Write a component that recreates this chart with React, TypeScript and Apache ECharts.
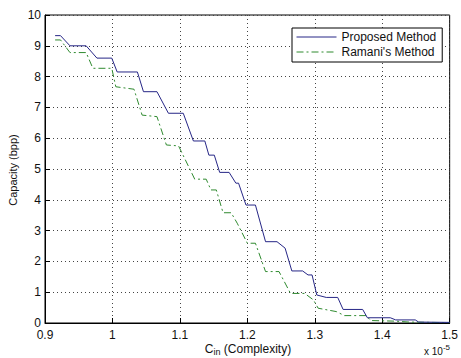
import React, { useEffect, useRef } from "react";
import * as echarts from "echarts";

// x values are in units of 1e-5
const xTicks = [0.9, 1.0, 1.1, 1.2, 1.3, 1.4, 1.5];
const yTicks = [0, 1, 2, 3, 4, 5, 6, 7, 8, 9, 10];

const proposedX = [0.915, 0.923, 0.937, 0.961, 0.977, 0.999, 1.007, 1.037, 1.046, 1.066, 1.083, 1.105, 1.12, 1.137, 1.143, 1.151, 1.159, 1.173, 1.183, 1.187, 1.198, 1.212, 1.227, 1.244, 1.256, 1.266, 1.282, 1.29, 1.296, 1.303, 1.317, 1.334, 1.342, 1.371, 1.378, 1.412, 1.42, 1.449, 1.454, 1.5];
const proposedY = [9.33, 9.33, 9.0, 9.0, 8.6, 8.6, 8.15, 8.15, 7.51, 7.51, 6.81, 6.81, 5.91, 5.91, 5.45, 5.45, 4.89, 4.89, 4.54, 4.54, 3.83, 3.83, 2.64, 2.64, 2.43, 1.69, 1.69, 1.56, 1.56, 0.91, 0.83, 0.83, 0.44, 0.44, 0.17, 0.17, 0.1, 0.1, 0.03, 0.02];

const ramaniX = [0.915, 0.923, 0.937, 0.961, 0.971, 0.999, 1.005, 1.032, 1.044, 1.066, 1.08, 1.098, 1.122, 1.139, 1.146, 1.154, 1.164, 1.176, 1.185, 1.2, 1.212, 1.227, 1.247, 1.264, 1.285, 1.298, 1.305, 1.332, 1.344, 1.376, 1.383, 1.42, 1.44, 1.5];
const ramaniY = [9.19, 9.19, 8.78, 8.78, 8.27, 8.27, 7.67, 7.59, 6.75, 6.7, 5.78, 5.75, 4.67, 4.67, 4.32, 4.32, 3.58, 3.58, 3.24, 2.59, 2.59, 1.67, 1.67, 0.96, 0.96, 0.75, 0.48, 0.37, 0.24, 0.24, 0.08, 0.06, 0.03, 0.01];

const seriesNames = ["Proposed Method", "Ramani's Method"];
const FONT = "Liberation Sans, Arial, sans-serif";

export default function App() {
  const ref = useRef<HTMLDivElement>(null);
  useEffect(() => {
    if (!ref.current) return;
    const chart = echarts.init(ref.current, null, { renderer: "svg" });
    const zip = (xs: number[], ys: number[]) => xs.map((x, i) => [x, ys[i]]);
    chart.setOption({
      animation: false,
      backgroundColor: "#fff",
      textStyle: { fontFamily: FONT },
      grid: {
        left: 45,
        right: 6,
        top: 15,
        bottom: 35,
        show: true,
        borderColor: "#000",
        borderWidth: 1,
        backgroundColor: "transparent",
      },
      legend: {
        orient: "vertical",
        left: 292,
        top: 28,
        itemWidth: 40,
        itemHeight: 14,
        itemGap: 3,
        padding: [3, 6, 4, 4],
        borderColor: "#000",
        borderWidth: 1,
        backgroundColor: "#fff",
        borderRadius: 0,
        itemStyle: { opacity: 0 },
        lineStyle: { width: 1 },
        textStyle: { fontFamily: FONT, fontSize: 12, color: "#111" },
        data: seriesNames,
      },
      xAxis: {
        type: "value",
        min: xTicks[0],
        max: xTicks[xTicks.length - 1],
        interval: 0.1,
        axisLine: { lineStyle: { color: "#000", width: 1 } },
        axisTick: { inside: true, length: 5, lineStyle: { color: "#000" } },
        axisLabel: {
          fontFamily: FONT,
          fontSize: 12,
          color: "#111",
          margin: 6,
          formatter: (v: number) => String(Math.round(v * 10) / 10),
        },
        splitLine: { show: true, lineStyle: { color: "#444", type: [1, 3], width: 1 } },
      },
      yAxis: {
        type: "value",
        min: yTicks[0],
        max: yTicks[yTicks.length - 1],
        interval: 1,
        axisLine: { show: true, lineStyle: { color: "#000", width: 1 } },
        axisTick: { show: true, inside: true, length: 5, lineStyle: { color: "#000" } },
        axisLabel: { fontFamily: FONT, fontSize: 12, color: "#111", margin: 4 },
        splitLine: { show: true, lineStyle: { color: "#444", type: [1, 3], width: 1 } },
      },
      series: [
        {
          name: seriesNames[0],
          type: "line",
          data: zip(proposedX, proposedY),
          symbol: "none",
          lineStyle: { color: "#262686", width: 1 },
          itemStyle: { color: "#262686" },
          z: 3,
        },
        {
          name: seriesNames[1],
          type: "line",
          data: zip(ramaniX, ramaniY),
          symbol: "none",
          lineStyle: { color: "#2f8a2f", width: 1, type: [7, 3, 2, 3] },
          itemStyle: { color: "#2f8a2f" },
          z: 2,
        },
      ],
      graphic: [
        {
          type: "text",
          x: 13,
          y: 170,
          rotation: Math.PI / 2,
          style: {
            text: "Capacity (bpp)",
            font: `11px ${FONT}`,
            fill: "#111",
            align: "center",
            verticalAlign: "middle",
          },
        },
        {
          type: "text",
          x: 248,
          y: 349,
          style: {
            text: "{c|C}{s|in}{c| (Complexity)}",
            align: "center",
            verticalAlign: "middle",
            rich: {
              c: { fontFamily: FONT, fontSize: 12, fill: "#111", color: "#111" },
              s: { fontFamily: FONT, fontSize: 9, fill: "#111", color: "#111", padding: [6, 0, 0, 0] },
            },
          },
        },
        {
          type: "text",
          x: 437,
          y: 351,
          style: {
            text: "{c|x 10}{s|-5}",
            align: "center",
            verticalAlign: "middle",
            rich: {
              c: { fontFamily: FONT, fontSize: 10, fill: "#111", color: "#111" },
              s: { fontFamily: FONT, fontSize: 8, fill: "#111", color: "#111", padding: [0, 0, 8, 0] },
            },
          },
        },
      ],
    });
    return () => chart.dispose();
  }, []);
  return (
    <div
      ref={ref}
      style={{ position: "fixed", left: 0, top: 0, width: 461, height: 358, background: "#fff" }}
    />
  );
}
